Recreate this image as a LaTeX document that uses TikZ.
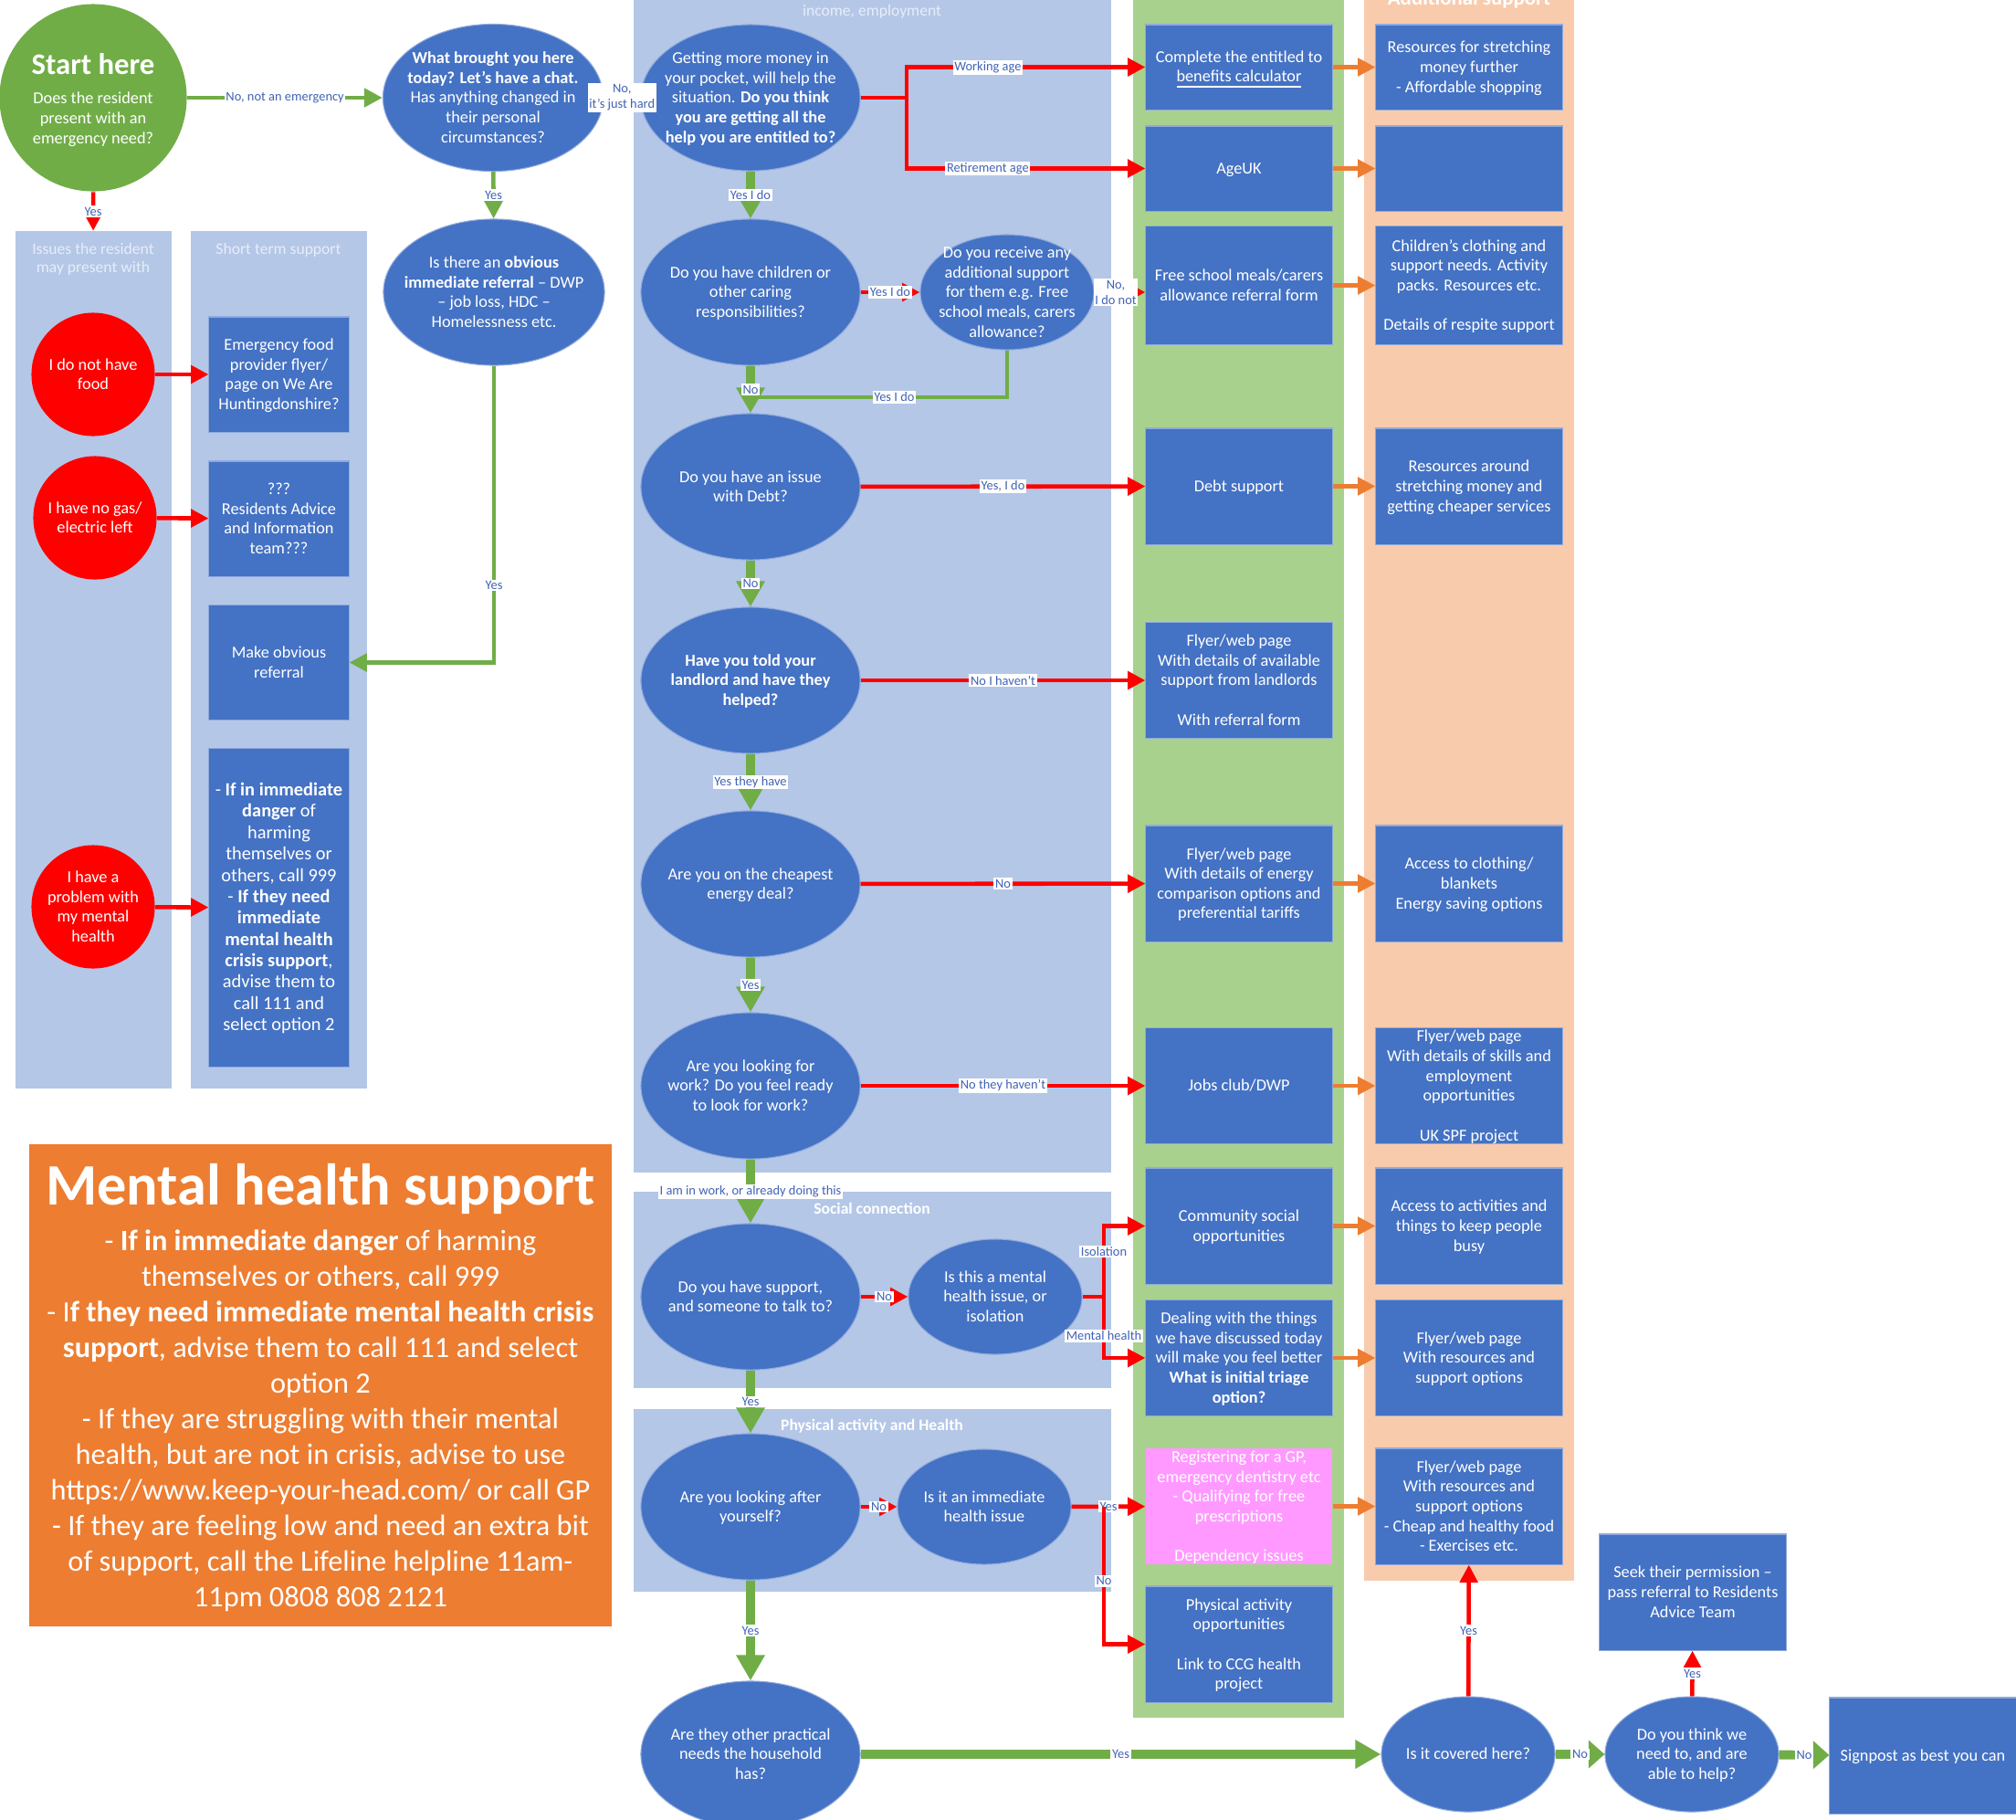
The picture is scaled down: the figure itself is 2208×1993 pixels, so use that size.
\documentclass[tikz,border=0pt]{standalone}
\usepackage{fontspec}
\setmainfont{Carlito}
\usetikzlibrary{shapes.geometric,arrows.meta}
\definecolor{qblue}{HTML}{4472C4}
\definecolor{pblue}{HTML}{B4C7E7}
\definecolor{ggreen}{HTML}{70AD47}
\definecolor{gpanel}{HTML}{A9D18E}
\definecolor{opanel}{HTML}{F8CBAD}
\definecolor{oorange}{HTML}{ED7D31}
\definecolor{rred}{HTML}{FF0000}
\definecolor{gpink}{HTML}{FF99FF}
\definecolor{lblue}{HTML}{4163B5}
\definecolor{ptitle}{HTML}{E8EDF7}
\definecolor{bedge}{HTML}{8FAADC}
\newcommand\FQ{\fontsize{5.2}{6.15}\selectfont}
\newcommand\FLB{\fontsize{4.1}{4.8}\selectfont}
\newcommand\FPT{\fontsize{5}{5.8}\selectfont}
\newcommand\FST{\fontsize{9.3}{10}\selectfont\bfseries}
\newcommand\FMH{\fontsize{9.2}{11.1}\selectfont}
\newcommand\FMHT{\fontsize{18.3}{20}\selectfont\bfseries}
\newcommand\FMB{\fontsize{5.8}{6.65}\selectfont}
\newcommand\FAS{\fontsize{6.5}{7.5}\selectfont\bfseries}
\newcommand\mytxt[1]{\smash{\makebox[0pt]{\raisebox{-0.33em}{\begin{tabular}{@{}c@{}}#1\end{tabular}}}}}
\begin{document}
\begin{tikzpicture}[x=0.01cm,y=-0.01cm,
  panel/.style={rectangle, inner sep=0pt, outer sep=0pt, draw=none},
  q/.style={ellipse, fill=qblue, draw=bedge, line width=0.3pt, text=white, inner sep=0pt, font=\FQ},
  qs/.style={minimum width=2.4cm, minimum height=1.6cm},
  qm/.style={minimum width=1.9cm, minimum height=1.26cm},
  rq/.style={ellipse, fill=rred, text=white, inner sep=0pt, font=\FQ, minimum width=1.35cm, minimum height=1.35cm},
  bx/.style={rectangle, fill=qblue, draw=bedge, line width=0.3pt, text=white, inner sep=0pt, font=\FQ},
  bs/.style={minimum width=2.04cm, minimum height=1.27cm},
  bt/.style={minimum width=2.04cm, minimum height=0.93cm},
  ls/.style={minimum width=1.53cm, minimum height=1.26cm},
  lbl/.style={fill=white, text=lblue, font=\FLB, inner sep=0.5pt},
  ptl/.style={text=ptitle, font=\FPT, inner sep=0pt},
  stl/.style={text=white, font=\FPT\bfseries, inner sep=0pt},
  garr/.style={draw=ggreen, line width=2.8pt, -{Triangle[length=8pt,width=8.5pt]}},
  gshort/.style={draw=ggreen, line width=2.8pt, -{Triangle[length=5pt,width=8.5pt]}},
  gthin/.style={draw=ggreen, line width=1.2pt},
  gthinarr/.style={draw=ggreen, line width=1.3pt, -{Triangle[length=5.5pt,width=5.5pt]}},
  rarr/.style={draw=rred, line width=1.3pt, -{Triangle[length=5.5pt,width=5.5pt]}},
  rline/.style={draw=rred, line width=1.3pt},
  oarr/.style={draw=oorange, line width=1.2pt, -{Triangle[length=5.5pt,width=5.5pt]}}
]
\useasboundingbox (0,0) rectangle (2208,1993);
\fill[white] (0,0) rectangle (2208,1993);

% ---------- panels
\node[panel, fill=pblue, minimum width=1.71cm, minimum height=9.39cm] (p1) at (102.5,722.5) {};
\node[panel, fill=pblue, minimum width=1.93cm, minimum height=9.39cm] (p2) at (305.5,722.5) {};
\node[panel, fill=pblue, minimum width=5.23cm, minimum height=12.94cm] (p3) at (955.5,637) {};
\node[panel, fill=pblue, minimum width=5.23cm, minimum height=2.15cm] (p4) at (955.5,1412.5) {};
\node[panel, fill=pblue, minimum width=5.23cm, minimum height=2.00cm] (p5) at (955.5,1643) {};
\node[panel, fill=gpanel, minimum width=2.31cm, minimum height=18.9cm] (gp) at (1356.5,935) {};
\node[panel, fill=opanel, minimum width=2.30cm, minimum height=17.4cm] (op) at (1609,860) {};
\node[panel, fill=oorange, minimum width=6.38cm, minimum height=5.28cm] (mh) at (351,1517) {};

% ---------- panel titles
\node[ptl, align=center] (t1) at (102,284) {Issues the resident\\ may present with};
\node[ptl] (t2) at (305,274) {Short term support};
\node[ptl] (t3) at (955,13) {income, employment};
\node[stl] (t4) at (955,1323) {Social connection};
\node[stl] (t5) at (955,1562) {Physical activity and Health};
\node[text=white, font=\FAS, anchor=base, inner sep=0pt] (t6) at (1609,5) {Additional support};

% ---------- mental health support box text
\node[text=white, font=\FMHT, inner sep=0pt] (mhT) at (351,1302) {Mental health support};
\node[text=white, font=\FMH, align=center, inner sep=0pt] (mhB) at (351,1556) {- \textbf{If in immediate danger} of harming\\ themselves or others, call 999\\ - I\textbf{f they need immediate mental health crisis}\\ \textbf{support}, advise them to call 111 and select\\ option 2\\ - If they are struggling with their mental\\ health, but are not in crisis, advise to use\\ https://www.keep-your-head.com/ or call GP\\ - If they are feeling low and need an extra bit\\ of support, call the Lifeline helpline 11am-\\ 11pm 0808 808 2121};

% ---------- start and first questions
\node[ellipse, fill=ggreen, text=white, inner sep=0pt, font=\FQ, minimum width=2.05cm, minimum height=2.05cm] (start) at (102,107) {\raisebox{-1.4pt}{\mytxt{{\FST Start here}\\[3pt] Does the resident\\ present with an\\ emergency need?}}};
\node[q, minimum width=2.41cm, minimum height=1.61cm] (what) at (540,107) {\mytxt{\textbf{What brought you here}\\ \textbf{today? Let’s have a chat.}\\ Has anything changed in\\ their personal\\ circumstances?}};
\node[q, minimum width=2.42cm, minimum height=1.6cm] (obv) at (541,320) {\mytxt{Is there an \textbf{obvious}\\ \textbf{immediate referral} – DWP\\ – job loss, HDC –\\ Homelessness etc.}};

% ---------- left column
\node[rq] (f1) at (102,410) {\mytxt{I do not have\\ food}};
\node[rq] (f2) at (104,567) {\mytxt{I have no gas/\\ electric left}};
\node[rq] (f3) at (102,993) {\mytxt{I have a\\ problem with\\ my mental\\ health}};
\node[bx, ls] (s1) at (305.5,410) {\mytxt{Emergency food\\ provider flyer/\\ page on We Are\\ Huntingdonshire?}};
\node[bx, ls] (s2) at (305.5,568) {\mytxt{???\\ Residents Advice\\ and Information\\ team???}};
\node[bx, ls] (s3) at (305.5,725.5) {\mytxt{Make obvious\\ referral}};
\node[bx, minimum width=1.53cm, minimum height=3.48cm, font=\FMB] (s4) at (305.5,994) {\mytxt{- \textbf{If in immediate}\\ \textbf{danger} of\\ harming\\ themselves or\\ others, call 999\\ - \textbf{If they need}\\ \textbf{immediate}\\ \textbf{mental health}\\ \textbf{crisis support},\\ advise them to\\ call 111 and\\ select option 2}};

% ---------- middle questions
\node[q, qs] (get) at (822,107) {\mytxt{Getting more money in\\ your pocket, will help the\\ situation. \textbf{Do you think}\\ \textbf{you are getting all the}\\ \textbf{help you are entitled to?}}};
\node[q, qs] (ch) at (822,320) {\mytxt{Do you have children or\\ other caring\\ responsibilities?}};
\node[q, qm] (rec) at (1103,320) {\mytxt{Do you receive any\\ additional support\\ for them e.g. Free\\ school meals, carers\\ allowance?}};
\node[q, qs] (debt) at (822,533) {\mytxt{Do you have an issue\\ with Debt?}};
\node[q, qs, font=\FQ\bfseries] (land) at (822,745) {\mytxt{Have you told your\\ landlord and have they\\ helped?}};
\node[q, qs] (en) at (822,968) {\mytxt{Are you on the cheapest\\ energy deal?}};
\node[q, qs] (work) at (822,1189) {\mytxt{Are you looking for\\ work? Do you feel ready\\ to look for work?}};
\node[q, qs] (sup) at (822,1420) {\mytxt{Do you have support,\\ and someone to talk to?}};
\node[q, qm] (men) at (1090,1420) {\mytxt{Is this a mental\\ health issue, or\\ isolation}};
\node[q, qs] (look) at (822,1650) {\mytxt{Are you looking after\\ yourself?}};
\node[q, qm] (imm) at (1078,1650) {\mytxt{Is it an immediate\\ health issue}};
\node[q, qs] (prac) at (822,1921) {\mytxt{Are they other practical\\ needs the household\\ has?}};
\node[q, qm] (cov) at (1608,1921) {\mytxt{Is it covered here?}};
\node[q, qm] (able) at (1853,1921) {\mytxt{Do you think we\\ need to, and are\\ able to help?}};

% ---------- green column boxes
\node[bx, bt] (b1) at (1357,73.5) {\mytxt{Complete the entitled to\\ \underline{benefits calculator}}};
\node[bx, bt] (b2) at (1357,184.5) {\mytxt{AgeUK}};
\node[bx, minimum width=2.04cm, minimum height=1.29cm] (b3) at (1357,312.5) {\mytxt{Free school meals/carers\\ allowance referral form}};
\node[bx, bs] (b4) at (1357,532.5) {\mytxt{Debt support}};
\node[bx, bs] (b5) at (1357,745) {\mytxt{Flyer/web page\\ With details of available\\ support from landlords\\ \\ With referral form}};
\node[bx, bs] (b6) at (1357,967.5) {\mytxt{Flyer/web page\\ With details of energy\\ comparison options and\\ preferential tariffs}};
\node[bx, bs] (b7) at (1357,1189) {\mytxt{Jobs club/DWP}};
\node[bx, bs] (b8) at (1357,1342.5) {\mytxt{Community social\\ opportunities}};
\node[bx, bs] (b9) at (1357,1487) {\mytxt{Dealing with the things\\ we have discussed today\\ will make you feel better\\ \textbf{What is initial triage}\\ \textbf{option?}}};
\node[bx, bs, fill=gpink, draw=none] (b10) at (1357,1649.5) {\mytxt{Registering for a GP,\\ emergency dentistry etc\\ - Qualifying for free\\ prescriptions\\ \\ Dependency issues}};
\node[bx, bs] (b11) at (1357,1800.5) {\mytxt{Physical activity\\ opportunities\\ \\ Link to CCG health\\ project}};

% ---------- orange column boxes
\node[bx, bt] (o1) at (1609,73.5) {\mytxt{Resources for stretching\\ money further\\ - Affordable shopping}};
\node[bx, bt] (o2) at (1609,184.5) {};
\node[bx, minimum width=2.04cm, minimum height=1.29cm] (o3) at (1609,312.5) {\mytxt{Children's clothing and\\ support needs. Activity\\ packs. Resources etc.\\ \\ Details of respite support}};
\node[bx, bs] (o4) at (1609,532.5) {\mytxt{Resources around\\ stretching money and\\ getting cheaper services}};
\node[bx, bs] (o6) at (1609,967.5) {\mytxt{Access to clothing/\\ blankets\\ Energy saving options}};
\node[bx, bs] (o7) at (1609,1189) {\mytxt{Flyer/web page\\ With details of skills and\\ employment\\ opportunities\\ \\ UK SPF project}};
\node[bx, bs] (o8) at (1609,1342.5) {\mytxt{Access to activities and\\ things to keep people\\ busy}};
\node[bx, bs] (o9) at (1609,1487) {\mytxt{Flyer/web page\\ With resources and\\ support options}};
\node[bx, bs] (o10) at (1609,1649.5) {\mytxt{Flyer/web page\\ With resources and\\ support options\\ - Cheap and healthy food\\ - Exercises etc.}};

% ---------- bottom right
\node[bx, bs] (seek) at (1854,1743.5) {\mytxt{Seek their permission –\\ pass referral to Residents\\ Advice Team}};
\node[bx, bs] (sign) at (2106,1922.5) {\mytxt{Signpost as best you can}};

% ---------- junction coordinates
\coordinate (jn) at (993,107);
\coordinate (rj) at (822,435);
\coordinate (mj) at (1209,1420);
\coordinate (ij) at (1209,1650);

% ---------- connectors: start area
\draw[draw=ggreen, line width=1.4pt, -{Triangle[length=5.7pt,width=5.7pt]}] (start) -- (what) node[lbl, midway] {No, not an emergency};
\draw[rarr] (start) -- (p1) node[lbl, midway] {Yes};
\draw[gthinarr] (what) -- (obv) node[lbl, midway] {Yes};
\draw[gthin] (what) -- (get) node[lbl, midway, align=center] {No,\\ it’s just hard};
\draw[gthinarr] (obv.south) |- (s3.east) node[lbl, pos=0.37] {Yes};

% left red arrows
\draw[rarr] (f1) -- (s1);
\draw[rarr] (f2) -- (s2);
\draw[rarr] (f3) -- (s4);

% money branch
\draw[rline] (get.east) -- (jn);
\draw[rarr] (jn) |- (b1.west) node[lbl, pos=0.67] {Working age};
\draw[rarr] (jn) |- (b2.west) node[lbl, pos=0.67] {Retirement age};
\draw[garr] (get) -- (ch) node[lbl, midway] {Yes I do};
\draw[rarr] (ch) -- (rec) node[lbl, midway] {Yes I do};
\draw[rarr] (rec.east) -- (rec.east -| b3.west) node[lbl, pos=0.42, align=center] {No,\\ I do not};
\draw[gthin] (rec.south) |- (rj) node[lbl, pos=0.72] {Yes I do};
\draw[garr] (ch) -- (debt) node[lbl, midway] {No};

% middle chain
\draw[rarr] (debt) -- (b4) node[lbl, midway] {Yes, I do};
\draw[garr] (debt) -- (land) node[lbl, midway] {No};
\draw[rarr] (land) -- (b5) node[lbl, midway] {No I haven’t};
\draw[garr] (land) -- (en) node[lbl, midway] {Yes they have};
\draw[rarr] (en) -- (b6) node[lbl, midway] {No};
\draw[garr] (en) -- (work) node[lbl, midway] {Yes};
\draw[rarr] (work) -- (b7) node[lbl, midway] {No they haven’t};
\draw[garr] (work) -- (sup) node[lbl, midway] {I am in work, or already doing this};
\draw[rarr] (sup) -- (men) node[lbl, midway] {No};
\draw[rline] (men) -- (mj);
\draw[rarr] (mj) |- (b8.west) node[lbl, pos=0.32] {Isolation};
\draw[rarr] (mj) |- (b9.west) node[lbl, pos=0.32] {Mental health};
\draw[garr] (sup) -- (look) node[lbl, midway] {Yes};
\draw[rarr] (look) -- (imm) node[lbl, midway] {No};
\draw[rarr] (imm) -- (b10) node[lbl, midway] {Yes};
\draw[rarr] (ij) |- (b11.west) node[lbl, pos=0.27] {No};
\draw[garr] (look) -- (prac) node[lbl, midway] {Yes};
\draw[garr] (prac) -- (cov) node[lbl, midway] {Yes};

% orange arrows
\draw[oarr] (b1) -- (o1);
\draw[oarr] (b2) -- (o2);
\draw[oarr] (b3) -- (o3);
\draw[oarr] (b4) -- (o4);
\draw[oarr] (b6) -- (o6);
\draw[oarr] (b7) -- (o7);
\draw[oarr] (b8) -- (o8);
\draw[oarr] (b9) -- (o9);
\draw[oarr] (b10) -- (o10);

% bottom right
\draw[rarr] (cov) -- (o10) node[lbl, midway] {Yes};
\draw[gshort] (cov) -- (able) node[lbl, midway] {No};
\draw[rarr] (able) -- (seek) node[lbl, midway] {Yes};
\draw[gshort] (able) -- (sign) node[lbl, midway] {No};
\end{tikzpicture}
\end{document}
